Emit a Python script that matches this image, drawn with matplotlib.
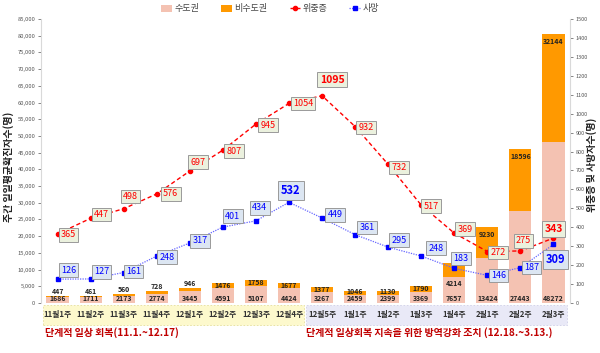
import matplotlib
matplotlib.use("Agg")
import matplotlib.pyplot as plt
from matplotlib.patches import Rectangle
from matplotlib.ticker import FuncFormatter, MultipleLocator
from matplotlib.transforms import blended_transform_factory
import numpy as np

plt.rcParams['font.family'] = ['Noto Sans CJK KR', 'DejaVu Sans']

categories = ["11월1주", "11월2주", "11월3주", "11월4주", "12월1주", "12월2주", "12월3주", "12월4주",
              "12월5주", "1월1주", "1월2주", "1월3주", "1월4주", "2월1주", "2월2주", "2월3주"]
capital = [1686, 1711, 2173, 2774, 3445, 4591, 5107, 4424, 3267, 2459, 2399, 3369, 7657, 13424, 27443, 48272]
noncapital = [447, 461, 560, 728, 946, 1476, 1758, 1677, 1377, 1046, 1130, 1790, 4214, 9230, 18596, 32144]
critical = [365, 447, 498, 576, 697, 807, 945, 1054, 1095, 932, 732, 517, 369, 272, 275, 343]
deaths = [126, 127, 161, 248, 317, 401, 434, 532, 449, 361, 295, 248, 183, 146, 187, 309]

# label offsets in pixels (style)
crit_off = [(11, -1), (11, 4), (7, 12), (14, 0), (8, 9), (11, -1), (12, -1), (14, 0),
            (10, 16), (11, -1), (11, -3), (10, -1), (11, 4), (11, -1), (3, 10), (0, 9)]
death_off = [(11, 9), (11, 7), (10, 1), (10, -1), (10, 2), (10, 11), (4, 13), (2, 12),
             (13, 3), (12, 7), (11, 7), (15, 8), (7, 10), (11, 0), (11, 0), (2, -15)]
crit_bold = [False] * 8 + [True] + [False] * 6 + [True]
death_bold = [False] * 7 + [True] + [False] * 7 + [True]

fig = plt.figure(figsize=(6.0, 3.53), dpi=100)
ax = fig.add_axes([41/600, 50/353, 529/600, 284/353])
x = np.arange(len(categories))

pink = '#f4c2b2'
orange = '#ff9900'
ax.bar(x, capital, width=0.67, color=pink, label='수도권', zorder=2)
ax.bar(x, noncapital, width=0.67, bottom=capital, color=orange, label='비수도권', zorder=2)

ax.set_xlim(-0.5, 15.5)
ax.set_ylim(0, 85000)
ax.yaxis.set_major_locator(MultipleLocator(5000))
ax.yaxis.set_major_formatter(FuncFormatter(lambda v, p: f"{int(v):,}"))
ax.tick_params(axis='y', labelsize=4.2, colors='#555555', length=2, width=0.5, pad=2)
ax.set_xticks([])
for s in ['top', 'right', 'bottom']:
    ax.spines[s].set_visible(False)
ax.spines['left'].set_color('#d9d9d9')

lblkw = dict(fontsize=5.0, fontweight='bold', color='#222222', zorder=5)
for i in range(len(x)):
    ax.annotate(str(capital[i]), (x[i], 0), xytext=(0, 1), textcoords='offset pixels',
                ha='center', va='bottom', **lblkw)
    top = capital[i] + noncapital[i]
    if i < 12:
        if noncapital[i] < 1000:
            ax.annotate(str(noncapital[i]), (x[i], top), xytext=(0, 1), textcoords='offset pixels',
                        ha='center', va='bottom', **lblkw)
        elif noncapital[i] < 1200:
            ax.annotate(str(noncapital[i]), (x[i], top), xytext=(0, 0), textcoords='offset pixels',
                        ha='center', va='center', **lblkw)
        else:
            ax.annotate(str(noncapital[i]), (x[i], capital[i] + noncapital[i] / 2), ha='center',
                        va='center', **lblkw)
    elif i == 12:
        ax.annotate(str(noncapital[i]), (x[i], capital[i]), xytext=(0, -6), textcoords='offset pixels',
                    ha='center', va='center', **lblkw)
    else:
        ax.annotate(str(noncapital[i]), (x[i], top), xytext=(0, -7), textcoords='offset pixels',
                    ha='center', va='center', **lblkw)

ax2 = ax.twinx()
ax2.set_ylim(0, 1500)
ax2.yaxis.set_major_locator(MultipleLocator(100))
ax2.tick_params(axis='y', labelsize=4.0, colors='#555555', length=2, width=0.5, pad=2)
for s in ['top', 'left', 'bottom']:
    ax2.spines[s].set_visible(False)
ax2.spines['right'].set_color('#d9d9d9')

ax2.plot(x, critical, color='#ff0000', linestyle=(0, (3, 2)), linewidth=1.0, marker='o',
         markersize=3, label='위중증', zorder=3)
ax2.plot(x, deaths, color='#6666ff', linestyle=(0, (1, 1)), linewidth=0.9, marker='s',
         markersize=3, markerfacecolor='#0000ff', markeredgecolor='#0000ff', label='사망', zorder=3)

for i in range(len(x)):
    b = crit_bold[i]
    ax2.annotate(str(critical[i]), (x[i], critical[i]), xytext=crit_off[i], textcoords='offset pixels',
                 ha='center', va='center', fontsize=7.5 if b else 6.5, fontweight='bold' if b else 'normal',
                 color='#ff0000', zorder=6,
                 bbox=dict(boxstyle='square,pad=0.25', fc='#ebf1de', ec='#9a9a9a', lw=0.7))
    b = death_bold[i]
    ax2.annotate(str(deaths[i]), (x[i], deaths[i]), xytext=death_off[i], textcoords='offset pixels',
                 ha='center', va='center', fontsize=8 if b else 6.5, fontweight='bold' if b else 'normal',
                 color='#0000ff', zorder=6,
                 bbox=dict(boxstyle='square,pad=0.25', fc='#dce6f2', ec='#9a9a9a', lw=0.7))

# axis titles
fig.text(9/600, 1 - 167/353, '주간 일일평균확진자수(명)', rotation=90, ha='center', va='center',
         fontsize=7.2, fontweight='bold', color='#222222')
fig.text(592/600, 1 - 165/353, '위중증 및 사망자수(명)', rotation=90, ha='center', va='center',
         fontsize=7.2, fontweight='bold', color='#222222')

# legend
h1, l1 = ax.get_legend_handles_labels()
h2, l2 = ax2.get_legend_handles_labels()
fig.legend(h1 + h2, l1 + l2, loc='center', bbox_to_anchor=(270/600, 1 - 9/353), ncol=4, frameon=False,
           fontsize=6.5, handlelength=1.2, handletextpad=0.2, columnspacing=2.5, labelcolor='#444444')

# category bands
band_y0 = 1 - 325/353
band_h = 20/353
fig.patches.append(Rectangle((43/600, band_y0), (304 - 43)/600, band_h, transform=fig.transFigure,
                             fc='#fdf9cd', ec='#e6df9a', lw=0.6, ls=(0, (2, 2)), zorder=1))
fig.patches.append(Rectangle((306/600, band_y0), (567 - 306)/600, band_h, transform=fig.transFigure,
                             fc='#e9e9f7', ec='#d0d0e8', lw=0.6, ls=(0, (2, 2)), zorder=1))
trans = blended_transform_factory(ax.transData, fig.transFigure)
for i, c in enumerate(categories):
    fig.text(x[i], 1 - 315/353, c, transform=trans, ha='center', va='center', fontsize=5.6,
             fontweight='bold', color='#333333', zorder=4)

fig.text(45/600, 1 - 333/353, '단계적 일상 회복(11.1.~12.17)', ha='left', va='center', fontsize=7.2,
         fontweight='bold', color='#c00000')
fig.text(306/600, 1 - 333/353, '단계적 일상회복 지속을 위한 방역강화 조치 (12.18.~3.13.)', ha='left',
         va='center', fontsize=7.2, fontweight='bold', color='#c00000')

fig.savefig('out.png', dpi=100)
